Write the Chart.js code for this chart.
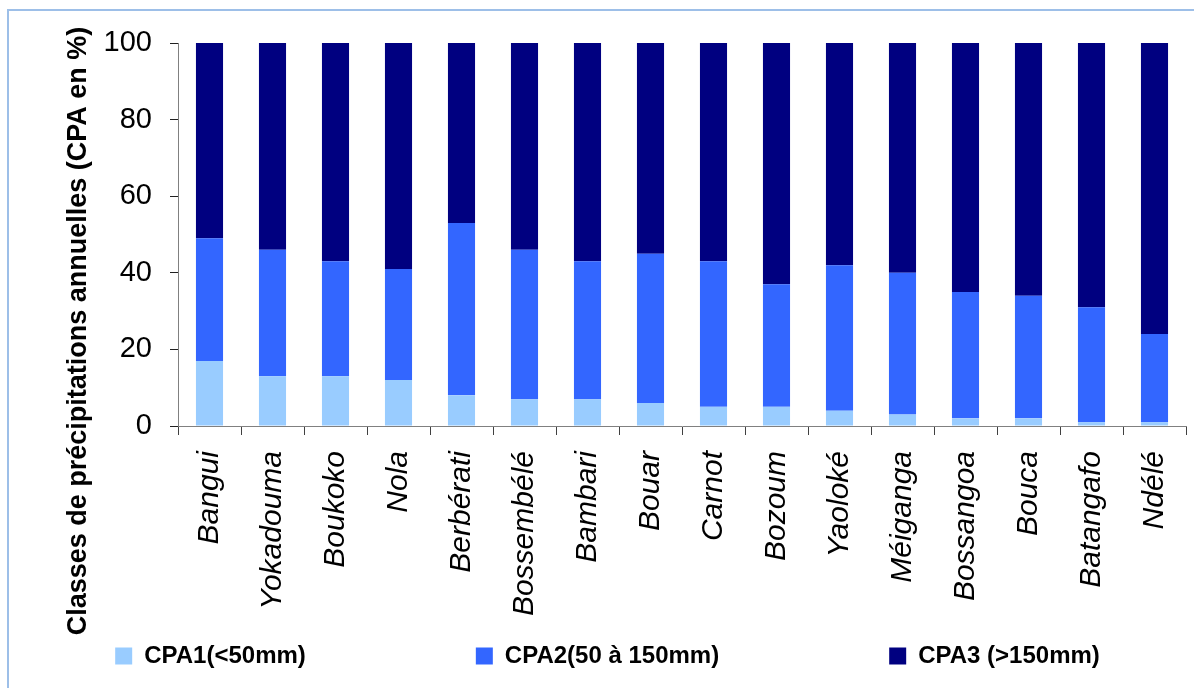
<!DOCTYPE html>
<html>
<head>
<meta charset="utf-8">
<script src="https://cdn.jsdelivr.net/npm/chart.js@4.4.1/dist/chart.umd.min.js"></script>
<style>
    body { margin: 0; background: #fff; overflow: hidden; }
    .frame { position: absolute; left: 7px; top: 9px; width: 1300px; height: 800px; border: 2px solid #9dbfe8; }
    #myChart { position: absolute; left: 0; top: 0; }
</style>
</head>
<body>
<div class="frame"></div>
<canvas id="myChart" width="1194" height="688"></canvas>
<script>
    const stations = ['Bangui', 'Yokadouma', 'Boukoko', 'Nola', 'Berbérati', 'Bossembélé', 'Bambari', 'Bouar',
        'Carnot', 'Bozoum', 'Yaoloké', 'Méiganga', 'Bossangoa', 'Bouca', 'Batangafo', 'Ndélé'];
    const cpa1 = [17, 13, 13, 12, 8, 7, 7, 6, 5, 5, 4, 3, 2, 2, 1, 1];
    const cpa2 = [32, 33, 30, 29, 45, 39, 36, 39, 38, 32, 38, 37, 33, 32, 30, 23];
    const cpa3 = [51, 54, 57, 59, 47, 54, 57, 55, 57, 63, 58, 60, 65, 66, 69, 76];
    const yTicks = [0, 20, 40, 60, 80, 100];

    const font = 'Liberation Sans, Arial, sans-serif';
    // spacing between legend entries (in spaces after the text)
    const legendSpaces = [24, 24, 0];

    new Chart(document.getElementById('myChart'), {
        type: 'bar',
        data: {
            labels: stations,
            datasets: [
                {label: 'CPA1(<50mm)', data: cpa1, backgroundColor: '#99ccff'},
                {label: 'CPA2(50 à 150mm)', data: cpa2, backgroundColor: '#3366ff'},
                {label: 'CPA3 (>150mm)', data: cpa3, backgroundColor: '#000080'}
            ]
        },
        options: {
            responsive: false,
            animation: false,
            categoryPercentage: 1,
            barPercentage: 0.43,
            borderWidth: 0,
            layout: {padding: {top: -16, left: 29, right: 8, bottom: 10}},
            scales: {
                x: {
                    stacked: true,
                    grid: {drawOnChartArea: false, tickLength: 9, color: '#404040'},
                    border: {color: '#808080', width: 1},
                    ticks: {
                        autoSkip: false, minRotation: 90, maxRotation: 90, padding: 16, color: '#000',
                        font: {family: font, size: 30, style: 'italic'}
                    },
                    afterFit: s => { s.height = 208; s.paddingLeft = 0; s.paddingRight = 0; }
                },
                y: {
                    stacked: true,
                    min: 0,
                    max: 100,
                    afterBuildTicks: s => { s.ticks = yTicks.map(v => ({value: v})); },
                    grid: {drawOnChartArea: false, tickLength: 8, color: '#202020'},
                    border: {color: '#808080', width: 1},
                    ticks: {padding: 18, color: '#000', font: {family: font, size: 29}},
                    afterFit: s => { s.width = 83.6; s.paddingTop = 43; s.paddingBottom = 0; }
                }
            },
            plugins: {
                tooltip: {enabled: false},
                title: {
                    display: true,
                    position: 'left',
                    text: 'Classes de précipitations annuelles (CPA en %)',
                    color: '#000',
                    font: {family: font, size: 27, weight: 'bold'},
                    padding: {top: 33, bottom: 0}
                },
                legend: {
                    position: 'bottom',
                    labels: {
                        boxWidth: 17,
                        boxHeight: 17,
                        padding: 10,
                        color: '#000',
                        font: {family: font, size: 24, weight: 'bold'},
                        generateLabels: chart => Chart.defaults.plugins.legend.labels.generateLabels(chart)
                            .map((item, i) => Object.assign(item, {text: item.text + ' '.repeat(legendSpaces[i])}))
                    }
                }
            }
        }
    });
</script>
</body>
</html>
